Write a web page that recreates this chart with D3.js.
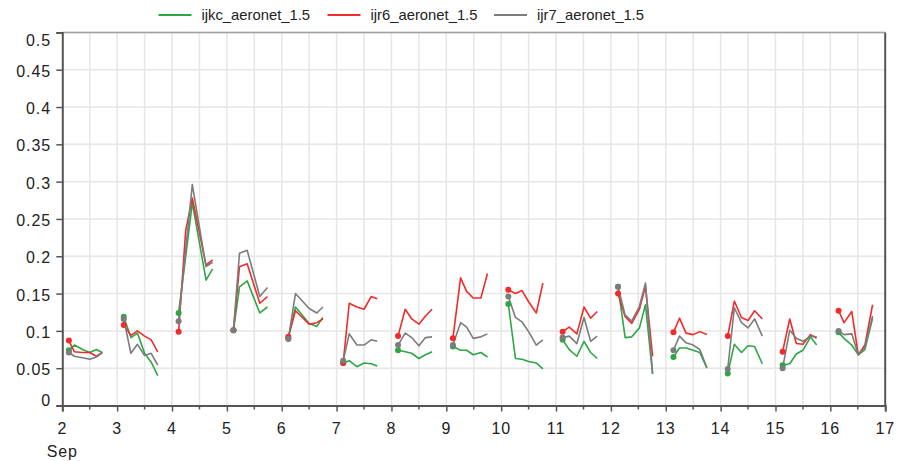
<!DOCTYPE html>
<html>
<head>
<meta charset="utf-8">
<script src="https://cdn.jsdelivr.net/npm/d3@7"></script>
<style>
  body { margin: 0; background: #fff; }
  svg { display: block; }
  text { font-family: "Liberation Sans", Arial, sans-serif; fill: #222; }
</style>
</head>
<body>
<svg id="chart" width="897" height="461"></svg>
<script>
// Observation times (day of September, fractional) and AOD per model run
const times = [
  2.12, 2.22, 2.37, 2.5, 2.62, 2.73,
  3.12, 3.25, 3.37, 3.5, 3.62, 3.74,
  4.12, 4.25, 4.37, 4.62, 4.74,
  5.12, 5.23, 5.37, 5.6, 5.74,
  6.12, 6.25, 6.5, 6.64, 6.75,
  7.12, 7.23, 7.37, 7.5, 7.63, 7.74,
  8.12, 8.25, 8.37, 8.5, 8.62, 8.74,
  9.12, 9.26, 9.37, 9.49, 9.63, 9.75,
  10.13, 10.26, 10.38, 10.5, 10.64, 10.76,
  11.12, 11.24, 11.38, 11.51, 11.63, 11.75,
  12.13, 12.26, 12.38, 12.52, 12.63, 12.76,
  13.14, 13.25, 13.37, 13.5, 13.62, 13.75,
  14.13, 14.25, 14.38, 14.5, 14.62, 14.76,
  15.13, 15.26, 15.38, 15.5, 15.64, 15.75,
  16.15, 16.25, 16.39, 16.51, 16.63, 16.77
];
const ijkc = [
  0.074, 0.081, 0.075, 0.071, 0.075, 0.071,
  0.119, 0.091, 0.097, 0.070, 0.058, 0.040,
  0.124, 0.200, 0.272, 0.168, 0.183,
  0.101, 0.159, 0.167, 0.124, 0.132,
  0.090, 0.132, 0.110, 0.106, 0.118,
  0.057, 0.060, 0.052, 0.057, 0.056, 0.053,
  0.074, 0.072, 0.070, 0.063, 0.068, 0.072,
  0.079, 0.074, 0.074, 0.068, 0.071, 0.065,
  0.136, 0.063, 0.062, 0.059, 0.057, 0.049,
  0.088, 0.075, 0.066, 0.086, 0.071, 0.063,
  0.159, 0.091, 0.092, 0.104, 0.135, 0.042,
  0.065, 0.077, 0.077, 0.074, 0.071, 0.050,
  0.043, 0.082, 0.071, 0.080, 0.079, 0.056,
  0.054, 0.056, 0.069, 0.074, 0.092, 0.081,
  0.098, 0.090, 0.081, 0.068, 0.075, 0.117
];
const ijr6 = [
  0.087, 0.072, 0.071, 0.071, 0.066, 0.071,
  0.108, 0.094, 0.100, 0.093, 0.088, 0.072,
  0.099, 0.235, 0.278, 0.188, 0.195,
  0.101, 0.186, 0.190, 0.137, 0.146,
  0.092, 0.127, 0.109, 0.111, 0.116,
  0.057, 0.137, 0.132, 0.129, 0.146, 0.143,
  0.093, 0.129, 0.116, 0.109, 0.120, 0.129,
  0.090, 0.171, 0.153, 0.144, 0.144, 0.177,
  0.155, 0.150, 0.154, 0.139, 0.124, 0.164,
  0.099, 0.105, 0.096, 0.132, 0.117, 0.126,
  0.150, 0.119, 0.110, 0.129, 0.160, 0.066,
  0.098, 0.117, 0.097, 0.095, 0.099, 0.095,
  0.093, 0.140, 0.118, 0.114, 0.127, 0.116,
  0.072, 0.116, 0.083, 0.082, 0.095, 0.090,
  0.127, 0.111, 0.126, 0.068, 0.081, 0.135
];
const ijr7 = [
  0.071, 0.066, 0.064, 0.062, 0.065, 0.071,
  0.116, 0.070, 0.082, 0.067, 0.070, 0.054,
  0.113, 0.210, 0.296, 0.186, 0.192,
  0.101, 0.204, 0.208, 0.146, 0.158,
  0.089, 0.150, 0.130, 0.124, 0.132,
  0.060, 0.096, 0.081, 0.081, 0.088, 0.086,
  0.081, 0.097, 0.091, 0.080, 0.091, 0.092,
  0.081, 0.111, 0.105, 0.090, 0.092, 0.096,
  0.146, 0.118, 0.112, 0.099, 0.081, 0.088,
  0.091, 0.093, 0.083, 0.118, 0.086, 0.093,
  0.159, 0.121, 0.113, 0.133, 0.164, 0.043,
  0.074, 0.093, 0.084, 0.081, 0.075, 0.051,
  0.049, 0.131, 0.111, 0.104, 0.116, 0.093,
  0.050, 0.101, 0.090, 0.086, 0.093, 0.092,
  0.100, 0.095, 0.096, 0.068, 0.078, 0.120
];

const seriesNames = ["ijkc_aeronet_1.5", "ijr6_aeronet_1.5", "ijr7_aeronet_1.5"];
const seriesColors = ["#2da745", "#f22a2a", "#7c7c7c"];
const yTickValues = [0, 0.05, 0.1, 0.15, 0.2, 0.25, 0.3, 0.35, 0.4, 0.45, 0.5];
const yTickLabels = ["0", "0.05", "0.1", "0.15", "0.2", "0.25", "0.3", "0.35", "0.4", "0.45", "0.5"];
const xDays = [2, 3, 4, 5, 6, 7, 8, 9, 10, 11, 12, 13, 14, 15, 16, 17];
const monthLabel = "Sep";

const svg = d3.select("#chart");
const W = 897, H = 461;
const plot = { left: 62.3, right: 885.2, top: 32.4, bottom: 405.5 };

const x = d3.scaleLinear().domain([2, 17]).range([plot.left, plot.right]);
const y = d3.scaleLinear().domain([0, 0.5]).range([plot.bottom, plot.top]);

svg.append("rect").attr("width", W).attr("height", H).attr("fill", "#fff");

// grid
const halfDays = d3.range(2.5, 17, 0.5);
const grid = svg.append("g").attr("stroke", "#e6e6e6").attr("stroke-width", 1.5);
grid.selectAll("line.v").data(halfDays).join("line")
  .attr("x1", d => x(d)).attr("x2", d => x(d))
  .attr("y1", plot.top).attr("y2", plot.bottom);
grid.selectAll("line.h").data(yTickValues.slice(1)).join("line")
  .attr("x1", plot.left).attr("x2", plot.right)
  .attr("y1", d => y(d)).attr("y2", d => y(d));

// top and right frame
svg.append("line").attr("x1", plot.left).attr("x2", plot.right)
  .attr("y1", y(0.5)).attr("y2", y(0.5)).attr("stroke", "#a0a0a0").attr("stroke-width", 1.5);
svg.append("line").attr("x1", plot.right).attr("x2", plot.right)
  .attr("y1", plot.top).attr("y2", plot.bottom).attr("stroke", "#555").attr("stroke-width", 2);

// series: split into daily runs
const runs = d3.groups(d3.range(times.length), i => Math.floor(times[i]));
const seriesValues = [ijkc, ijr6, ijr7];
const line = d3.line().x(d => x(d[0])).y(d => y(d[1]));

seriesValues.forEach((vals, s) => {
  const g = svg.append("g");
  runs.forEach(([day, idx]) => {
    const pts = idx.map(i => [times[i], vals[i]]);
    g.append("path").attr("d", line(pts)).attr("fill", "none")
      .attr("stroke", seriesColors[s]).attr("stroke-width", 1.6)
      .attr("stroke-linejoin", "round");
  });
});
seriesValues.forEach((vals, s) => {
  svg.append("g").selectAll("circle").data(runs).join("circle")
    .attr("cx", ([, idx]) => x(times[idx[0]]))
    .attr("cy", ([, idx]) => y(vals[idx[0]]))
    .attr("r", 3).attr("fill", seriesColors[s]);
});

// y axis
const yAxis = svg.append("g").attr("transform", `translate(${plot.left},0)`)
  .call(d3.axisLeft(y).tickValues(yTickValues).tickSize(6).tickFormat(""));
yAxis.select(".domain").attr("stroke", "#555").attr("stroke-width", 2);
yAxis.selectAll(".tick line").attr("stroke", "#555").attr("stroke-width", 1.5);
svg.append("g").selectAll("text").data(yTickValues).join("text")
  .attr("x", 51).attr("text-anchor", "end")
  .attr("y", (d, i) => i === yTickValues.length - 1 ? 40.5 : (i === 0 ? 400 : y(d) + 1.5))
  .attr("dy", "0.35em").attr("font-size", 16).attr("letter-spacing", 0.9)
  .text((d, i) => yTickLabels[i]);

// x axis
const xAxis = svg.append("g").attr("transform", `translate(0,${plot.bottom})`)
  .call(d3.axisBottom(x).tickValues(xDays).tickSize(6).tickFormat(""));
xAxis.select(".domain").attr("stroke", "#555").attr("stroke-width", 2);
xAxis.selectAll(".tick line").attr("stroke", "#555").attr("stroke-width", 1.5);
svg.append("g").attr("transform", `translate(0,${plot.bottom})`)
  .selectAll("line").data(halfDays.filter(d => d % 1 !== 0)).join("line")
  .attr("x1", d => x(d)).attr("x2", d => x(d)).attr("y1", 0).attr("y2", 4)
  .attr("stroke", "#555").attr("stroke-width", 1.5);
svg.append("g").selectAll("text").data(xDays).join("text")
  .attr("x", d => x(d)).attr("y", 428).attr("dy", "0.35em")
  .attr("text-anchor", "middle").attr("font-size", 16).attr("letter-spacing", 0.9)
  .text(d => d);
svg.append("text").attr("x", x(2)).attr("y", 451.5).attr("dy", "0.35em")
  .attr("text-anchor", "middle").attr("font-size", 16).attr("letter-spacing", 0.9)
  .text(monthLabel);

// legend
const legendX = [158.5, 327.5, 494];
const legend = svg.append("g");
seriesNames.forEach((name, s) => {
  legend.append("line").attr("x1", legendX[s]).attr("x2", legendX[s] + 33)
    .attr("y1", 15).attr("y2", 15).attr("stroke", seriesColors[s]).attr("stroke-width", 2);
  legend.append("text").attr("x", legendX[s] + 43).attr("y", 15).attr("dy", "0.35em")
    .attr("font-size", 14.8).text(name);
});
</script>
</body>
</html>
